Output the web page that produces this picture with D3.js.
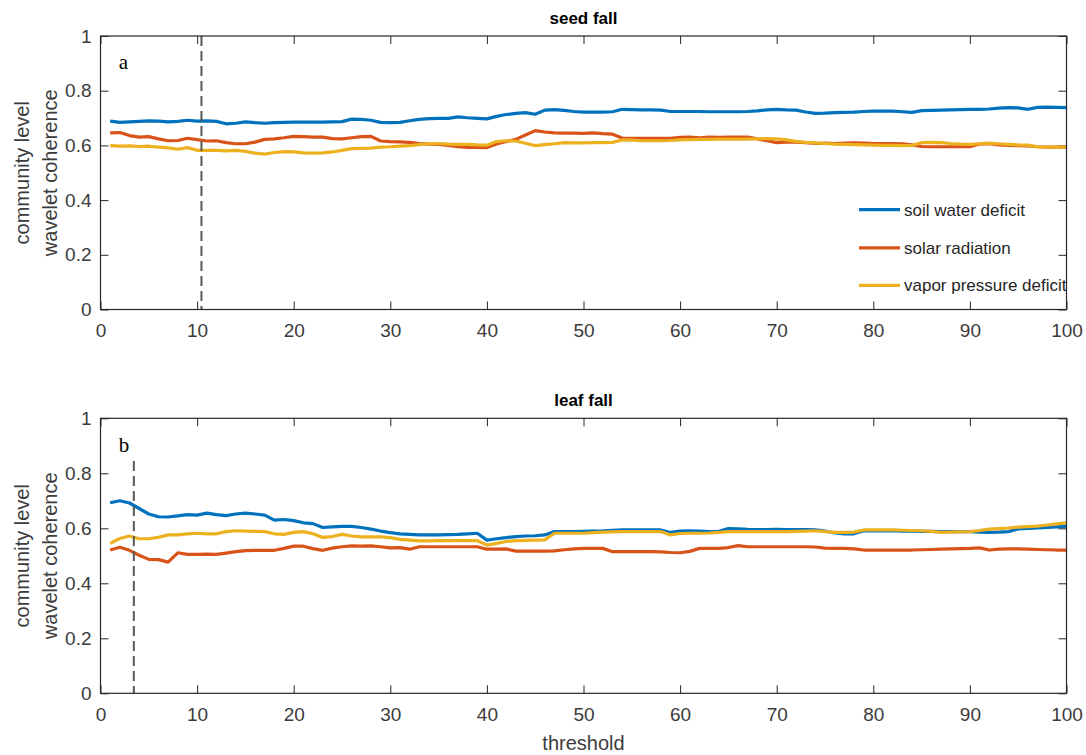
<!DOCTYPE html>
<html>
<head>
<meta charset="utf-8">
<script src="https://cdn.jsdelivr.net/npm/d3@7"></script>
<style>
  body { margin: 0; background: #fff; }
  text { font-family: "Liberation Sans", Arial, sans-serif; }
</style>
</head>
<body>
<div class="chart"></div>
<script>
const thresholds = d3.range(1, 101)
const seriesNames = ["soil water deficit", "solar radiation", "vapor pressure deficit"]

// seed fall (panel a)
const seedSoilWater = [
  0.689, 0.684, 0.686, 0.688, 0.690, 0.689, 0.686, 0.688, 0.692, 0.689,
  0.690, 0.688, 0.679, 0.681, 0.686, 0.683, 0.681, 0.683, 0.684, 0.685,
  0.685, 0.685, 0.685, 0.686, 0.687, 0.696, 0.695, 0.692, 0.684, 0.683,
  0.684, 0.690, 0.695, 0.698, 0.699, 0.699, 0.704, 0.701, 0.699, 0.697,
  0.706, 0.713, 0.717, 0.720, 0.714, 0.729, 0.731, 0.728, 0.724, 0.722,
  0.722, 0.722, 0.723, 0.732, 0.731, 0.730, 0.730, 0.729, 0.724, 0.724,
  0.724, 0.724, 0.723, 0.723, 0.723, 0.723, 0.724, 0.726, 0.730, 0.732,
  0.730, 0.729, 0.722, 0.717, 0.718, 0.720, 0.721, 0.722, 0.724, 0.725,
  0.725, 0.725, 0.723, 0.721, 0.727, 0.728, 0.729, 0.730, 0.731, 0.732,
  0.732, 0.733, 0.736, 0.738, 0.737, 0.732, 0.739, 0.740, 0.739, 0.738
]
const seedSolar = [
  0.646, 0.647, 0.636, 0.630, 0.632, 0.624, 0.617, 0.618, 0.626, 0.621,
  0.616, 0.617, 0.610, 0.606, 0.606, 0.612, 0.622, 0.624, 0.628, 0.633,
  0.632, 0.630, 0.630, 0.625, 0.624, 0.628, 0.632, 0.633, 0.616, 0.614,
  0.613, 0.611, 0.607, 0.605, 0.604, 0.600, 0.595, 0.593, 0.593, 0.592,
  0.605, 0.614, 0.622, 0.638, 0.654, 0.649, 0.646, 0.645, 0.645, 0.644,
  0.646, 0.643, 0.641, 0.627, 0.626, 0.626, 0.626, 0.626, 0.626, 0.629,
  0.630, 0.628, 0.630, 0.629, 0.630, 0.630, 0.630, 0.624, 0.617, 0.610,
  0.612, 0.612, 0.610, 0.607, 0.608, 0.607, 0.608, 0.609, 0.608, 0.607,
  0.607, 0.607, 0.606, 0.602, 0.596, 0.595, 0.595, 0.595, 0.595, 0.595,
  0.605, 0.606, 0.602, 0.600, 0.599, 0.598, 0.595, 0.594, 0.594, 0.594
]
const seedVapor = [
  0.599, 0.597, 0.598, 0.596, 0.597, 0.594, 0.591, 0.586, 0.592, 0.582,
  0.582, 0.582, 0.580, 0.582, 0.578, 0.572, 0.568, 0.574, 0.577, 0.576,
  0.573, 0.572, 0.573, 0.576, 0.582, 0.588, 0.589, 0.590, 0.594, 0.595,
  0.597, 0.599, 0.603, 0.606, 0.607, 0.605, 0.604, 0.604, 0.602, 0.601,
  0.614, 0.617, 0.616, 0.608, 0.599, 0.603, 0.606, 0.610, 0.609, 0.609,
  0.610, 0.610, 0.611, 0.620, 0.619, 0.617, 0.617, 0.617, 0.618, 0.620,
  0.621, 0.622, 0.622, 0.623, 0.623, 0.623, 0.623, 0.624, 0.625, 0.624,
  0.620, 0.615, 0.611, 0.609, 0.607, 0.605, 0.604, 0.603, 0.602, 0.601,
  0.600, 0.600, 0.599, 0.600, 0.610, 0.611, 0.610, 0.607, 0.605, 0.604,
  0.606, 0.608, 0.606, 0.604, 0.602, 0.601, 0.595, 0.594, 0.594, 0.594
]

// leaf fall (panel b)
const leafSoilWater = [
  0.693, 0.700, 0.692, 0.672, 0.652, 0.642, 0.641, 0.645, 0.650, 0.648,
  0.655, 0.650, 0.646, 0.652, 0.655, 0.652, 0.648, 0.630, 0.632, 0.628,
  0.620, 0.617, 0.603, 0.605, 0.607, 0.607, 0.603, 0.597, 0.590, 0.584,
  0.580, 0.578, 0.576, 0.576, 0.576, 0.577, 0.578, 0.580, 0.582, 0.557,
  0.562, 0.566, 0.570, 0.572, 0.573, 0.576, 0.588, 0.588, 0.588, 0.589,
  0.590, 0.591, 0.593, 0.594, 0.594, 0.594, 0.594, 0.594, 0.585, 0.590,
  0.591, 0.590, 0.588, 0.589, 0.599, 0.598, 0.596, 0.595, 0.595, 0.596,
  0.595, 0.595, 0.595, 0.594, 0.590, 0.583, 0.580, 0.580, 0.591, 0.591,
  0.591, 0.591, 0.590, 0.590, 0.589, 0.589, 0.588, 0.588, 0.588, 0.588,
  0.586, 0.585, 0.586, 0.588, 0.598, 0.600, 0.601, 0.603, 0.605, 0.608
]
const leafSolar = [
  0.521, 0.531, 0.520, 0.502, 0.487, 0.486, 0.477, 0.511, 0.505, 0.505,
  0.506, 0.505, 0.510, 0.515, 0.519, 0.520, 0.520, 0.520, 0.527, 0.535,
  0.535, 0.526, 0.520, 0.528, 0.533, 0.536, 0.535, 0.536, 0.533, 0.529,
  0.530, 0.524, 0.533, 0.533, 0.533, 0.533, 0.533, 0.533, 0.533, 0.524,
  0.524, 0.525, 0.517, 0.517, 0.517, 0.517, 0.518, 0.522, 0.525, 0.527,
  0.527, 0.527, 0.515, 0.515, 0.515, 0.515, 0.515, 0.514, 0.512, 0.511,
  0.516, 0.527, 0.527, 0.527, 0.530, 0.537, 0.533, 0.533, 0.533, 0.533,
  0.533, 0.533, 0.533, 0.532, 0.528, 0.527, 0.527, 0.525, 0.521, 0.521,
  0.521, 0.521, 0.521, 0.521, 0.522, 0.523, 0.524, 0.525, 0.526, 0.527,
  0.529, 0.521, 0.524, 0.525, 0.525, 0.524, 0.523, 0.522, 0.521, 0.521
]
const leafVapor = [
  0.545, 0.563, 0.572, 0.562, 0.562, 0.567, 0.576, 0.576, 0.580, 0.582,
  0.580, 0.580, 0.588, 0.591, 0.590, 0.589, 0.588, 0.580, 0.578, 0.585,
  0.588, 0.580, 0.567, 0.570, 0.578, 0.572, 0.569, 0.569, 0.569, 0.566,
  0.560, 0.557, 0.554, 0.554, 0.555, 0.555, 0.555, 0.555, 0.555, 0.539,
  0.545, 0.552, 0.555, 0.556, 0.557, 0.558, 0.582, 0.582, 0.582, 0.582,
  0.584, 0.586, 0.587, 0.588, 0.588, 0.588, 0.588, 0.588, 0.576, 0.581,
  0.582, 0.582, 0.583, 0.585, 0.588, 0.588, 0.588, 0.588, 0.588, 0.588,
  0.588, 0.589, 0.590, 0.591, 0.588, 0.585, 0.585, 0.586, 0.594, 0.594,
  0.594, 0.594, 0.593, 0.592, 0.591, 0.589, 0.585, 0.586, 0.587, 0.588,
  0.592, 0.597, 0.599, 0.601, 0.604, 0.606, 0.608, 0.612, 0.616, 0.620
]

const xTicks = [0, 10, 20, 30, 40, 50, 60, 70, 80, 90, 100]
const yTicks = [0, 0.2, 0.4, 0.6, 0.8, 1]
const yTickLabels = ["0", "0.2", "0.4", "0.6", "0.8", "1"]

// vertical marker thresholds and their top value
const markerSeed = { x: 10.45, top: 1 }
const markerLeaf = { x: 3.45, top: 0.845 }

const drawChart = () => {
  const colors = {
    axis: "#262626",
    text: "#3c3c3c",
    marker: "#595959",
    series: ["#0072BD", "#D95319", "#EDB120"]
  }

  const chartDimensions = {
    width: 1086,
    height: 755,
    left: 100.5,
    right: 1066.5
  }

  const panels = [
    { title: "seed fall", tag: "a", top: 36, bottom: 309.5,
      series: [seedSoilWater, seedSolar, seedVapor], marker: markerSeed, legend: true },
    { title: "leaf fall", tag: "b", top: 418.3, bottom: 693.3,
      series: [leafSoilWater, leafSolar, leafVapor], marker: markerLeaf, legend: false }
  ]

  const xScale = d3.scaleLinear()
    .domain([0, 100])
    .range([chartDimensions.left, chartDimensions.right])

  const svg = d3.select(".chart").append("svg")
      .attr("width", chartDimensions.width)
      .attr("height", chartDimensions.height)

  panels.forEach(panel => {
    const yScale = d3.scaleLinear()
      .domain([0, 1])
      .range([panel.bottom, panel.top])

    const g = svg.append("g")

    const styleAxis = sel => sel
      .call(s => s.select(".domain").remove())
      .call(s => s.selectAll(".tick line").attr("stroke", colors.axis))
      .call(s => s.selectAll(".tick text")
        .attr("fill", colors.text)
        .style("font-size", "19px")
        .style("font-family", "'Liberation Sans', Arial, sans-serif"))

    g.append("g")
        .attr("transform", `translate(0,${panel.bottom})`)
        .call(d3.axisBottom(xScale).tickValues(xTicks).tickFormat(d3.format("d"))
          .tickSizeInner(-8).tickSizeOuter(0).tickPadding(14))
        .call(styleAxis)

    g.append("g")
        .attr("transform", `translate(0,${panel.top})`)
        .call(d3.axisTop(xScale).tickValues(xTicks).tickFormat("")
          .tickSizeInner(-8).tickSizeOuter(0))
        .call(styleAxis)

    g.append("g")
        .attr("transform", `translate(${chartDimensions.left},0)`)
        .call(d3.axisLeft(yScale).tickValues(yTicks).tickFormat((d, i) => yTickLabels[i])
          .tickSizeInner(-8).tickSizeOuter(0).tickPadding(9))
        .call(styleAxis)

    g.append("g")
        .attr("transform", `translate(${chartDimensions.right},0)`)
        .call(d3.axisRight(yScale).tickValues(yTicks).tickFormat("")
          .tickSizeInner(-8).tickSizeOuter(0))
        .call(styleAxis)

    // lines
    const lineGenerator = d3.line()
      .x((d, i) => xScale(thresholds[i]))
      .y(d => yScale(d))

    g.selectAll(".lines")
      .data(panel.series)
      .join("path")
        .attr("class", "lines")
        .attr("d", d => lineGenerator(d))
        .attr("fill", "none")
        .attr("stroke", (d, i) => colors.series[i])
        .attr("stroke-width", 3.2)
        .attr("stroke-linejoin", "round")

    // dashed marker
    g.append("line")
        .attr("x1", xScale(panel.marker.x))
        .attr("x2", xScale(panel.marker.x))
        .attr("y1", yScale(panel.marker.top))
        .attr("y2", yScale(0))
        .attr("stroke", colors.marker)
        .attr("stroke-width", 2)
        .attr("stroke-dasharray", "10,5")

    // box
    g.append("rect")
        .attr("x", chartDimensions.left)
        .attr("y", panel.top)
        .attr("width", chartDimensions.right - chartDimensions.left)
        .attr("height", panel.bottom - panel.top)
        .attr("fill", "none")
        .attr("stroke", colors.axis)
        .attr("stroke-width", 1.2)

    g.append("text")
        .attr("x", (chartDimensions.left + chartDimensions.right) / 2)
        .attr("y", panel.top - 12)
        .attr("text-anchor", "middle")
        .attr("font-weight", "bold")
        .attr("font-size", 17)
        .attr("fill", "#000")
        .text(panel.title)

    g.append("text")
        .attr("x", xScale(1.9))
        .attr("y", yScale(0.9) + 6)
        .style("font-family", "'Liberation Serif', 'Times New Roman', serif")
        .attr("font-size", 21)
        .attr("fill", "#000")
        .text(panel.tag)

    // y label
    const yMid = (panel.top + panel.bottom) / 2
    const yLabel = g.append("text")
        .attr("transform", `translate(0,${yMid}) rotate(-90)`)
        .attr("text-anchor", "middle")
        .attr("font-size", 20)
        .attr("fill", colors.text)
    yLabel.append("tspan").attr("x", 0).attr("y", 29).text("community level")
    yLabel.append("tspan").attr("x", 0).attr("y", 57).text("wavelet coherence")

    if (panel.legend) {
      const legend = g.append("g")
      const rows = [yScale(0.365), yScale(0.225), yScale(0.088)]
      seriesNames.forEach((name, i) => {
        legend.append("line")
            .attr("x1", 859).attr("x2", 900)
            .attr("y1", rows[i]).attr("y2", rows[i])
            .attr("stroke", colors.series[i])
            .attr("stroke-width", 3.2)
        legend.append("text")
            .attr("x", 904)
            .attr("y", rows[i])
            .attr("dy", "0.35em")
            .attr("font-size", 17)
            .attr("fill", colors.axis)
            .text(name)
      })
    }
  })

  svg.append("text")
      .attr("x", (chartDimensions.left + chartDimensions.right) / 2)
      .attr("y", 750)
      .attr("text-anchor", "middle")
      .attr("font-size", 20)
      .attr("fill", colors.text)
      .text("threshold")
}
drawChart()
</script>
</body>
</html>
